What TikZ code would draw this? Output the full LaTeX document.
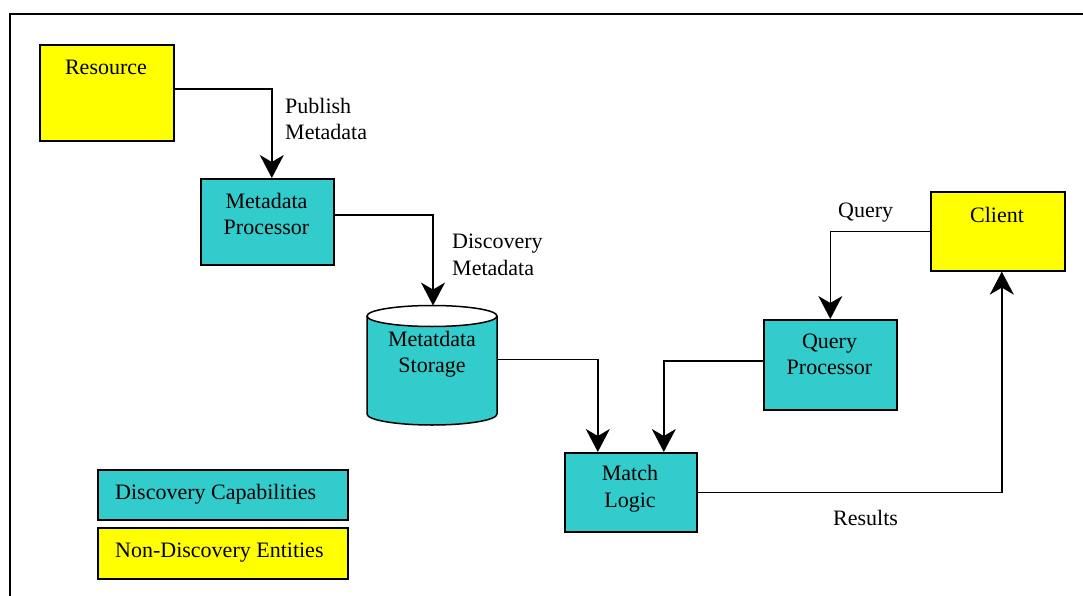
\documentclass[tikz,border=0pt]{standalone}
\usepackage{fontspec}
\setmainfont{Liberation Serif}
\usetikzlibrary{arrows.meta}
\definecolor{disc}{RGB}{51,204,204}
\definecolor{entc}{RGB}{255,255,0}
\begin{document}
\begin{tikzpicture}[x=1pt,y=-1pt,
  every node/.style={font=\fontsize{22}{26.5}\selectfont},
  box/.style={draw=black, line width=1.6pt, inner sep=0, anchor=north west},
  capbox/.style={box, fill=disc},
  entbox/.style={box, fill=entc},
  lbl/.style={inner sep=0, align=center},
  sidelbl/.style={inner sep=0, align=left, anchor=west},
  flow/.style={line width=1.5pt, -{Stealth[length=23pt,width=24pt,inset=7pt]}},
]
\useasboundingbox (0,0) rectangle (1083,596);
\draw[line width=2pt] (1083,14) -- (10,14) -- (10,596);

% boxes
\node[entbox, minimum width=134pt, minimum height=96pt] (res) at (39,44) {};
\node[capbox, minimum width=133pt, minimum height=86pt] (mp) at (200,178) {};
\node[capbox, minimum width=133pt, minimum height=90pt] (qp) at (763,319) {};
\node[entbox, minimum width=134pt, minimum height=79pt] (cl) at (930,191) {};
\node[capbox, minimum width=132pt, minimum height=79pt] (ml) at (564,452) {};
\node[capbox, minimum width=250pt, minimum height=50pt] (leg1) at (97,469) {};
\node[entbox, minimum width=250pt, minimum height=51pt] (leg2) at (97,527) {};

% cylinder
\node[inner sep=0, minimum width=130pt, minimum height=119.5pt] (store) at (432,365.5) {};
\draw[line width=1.5pt, fill=disc] (367,316) -- (367,414) arc[start angle=180, end angle=360, x radius=65pt, y radius=11pt] -- (497,316);
\draw[line width=1.5pt, fill=white] (432,316) ellipse [x radius=65pt, y radius=10.5pt];

% box texts
\node[lbl] (tres) at (106,67.5) {Resource};
\node[lbl] (tmp) at (266.5,214) {Metadata\\Processor};
\node[lbl] (tst) at (432,354) {Metatdata\\Storage};
\node[lbl] (tqp) at (829.5,354.5) {Query\\Processor};
\node[lbl] (tcl) at (997,214.5) {Client};
\node[lbl] (tml) at (630,488.5) {Match\\Logic};
\node[sidelbl] (tleg1) at (115,494) {Discovery Capabilities};
\node[sidelbl] (tleg2) at (115,552.5) {Non-Discovery Entities};

% connectors
\draw[flow] ([yshift=4pt]res.east) -| ([xshift=4.5pt]mp.north);
\draw[flow] ([yshift=7pt]mp.east) -| ([xshift=1pt]store.north);
\draw[flow] ([yshift=6pt]store.east) -| ([xshift=-33pt]ml.north);
\draw[flow] ([yshift=4pt]qp.west) -| ([xshift=33pt]ml.north);
\draw[flow] (cl.west) -| (qp.north);
\draw[flow] (ml.east) -| ([xshift=4pt]cl.south);

% connector labels
\node[sidelbl] (lpub) at (285,119) {Publish\\Metadata};
\node[sidelbl] (ldisc) at (452,255) {Discovery\\Metadata};
\node[sidelbl] (lq) at (838,213) {Query};
\node[sidelbl] (lr) at (833,518) {Results};
\end{tikzpicture}
\end{document}
